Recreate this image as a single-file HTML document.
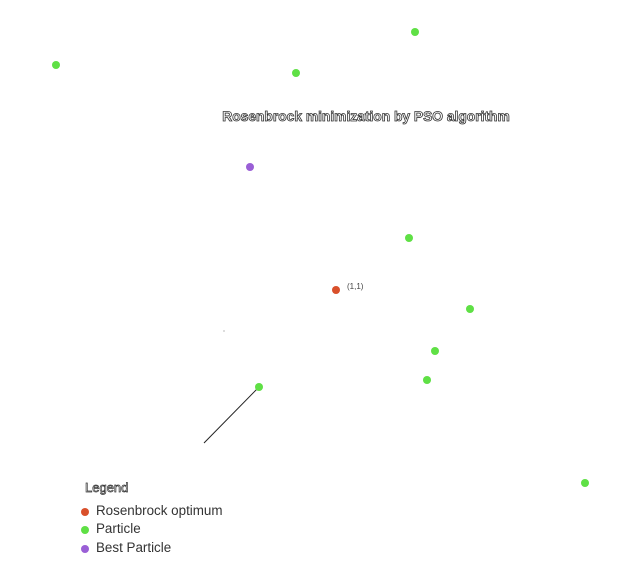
<!DOCTYPE html>
<html><head><meta charset="utf-8"><style>
html,body{margin:0;padding:0;background:#fff;width:640px;height:576px;overflow:hidden}
svg{display:block;font-family:"Liberation Sans",sans-serif}
</style></head><body>
<svg id="chart" width="640" height="576">
<text x="366" y="121" text-anchor="middle" font-size="13.8" font-weight="bold" fill="#fff" stroke="#333" stroke-width="0.8">Rosenbrock minimization by PSO algorithm</text>
<g id="marks"></g>
<g>
<text x="85" y="492" font-size="13" fill="#fff" stroke="#333" stroke-width="0.7">Legend</text>
<circle cx="85" cy="512" r="4" fill="#d9502b"/>
<text x="96" y="515" font-size="13.4" fill="#333">Rosenbrock optimum</text>
<circle cx="85" cy="530" r="4" fill="#5fe045"/>
<text x="96" y="533" font-size="13.4" fill="#333">Particle</text>
<circle cx="85" cy="549" r="4" fill="#9a5fd6"/>
<text x="96" y="552" font-size="13.4" fill="#333">Best Particle</text>
</g>
</svg>
<script>
const particleX = [-1.8, 0.6, 1.79, 1.73, 2.34, 1.99, 1.91, 0.23, 3.49];
const particleY = [3.25, 3.17, 3.58, 1.52, 0.81, 0.39, 0.10, 0.03, -0.93];
const bestX = [0.14];
const bestY = [2.23];
const optimumX = [1];
const optimumY = [1];
const velocityFrom = [0.23, 0.03];
const velocityTo = [-0.32, -0.53];

function sx(v){return 336 + (v - 1) * 100;}
function sy(v){return 290 - (v - 1) * 100;}
const NS = "http://www.w3.org/2000/svg";
const g = document.getElementById("marks");

const ln = document.createElementNS(NS, "line");
ln.setAttribute("x1", sx(velocityFrom[0])); ln.setAttribute("y1", sy(velocityFrom[1]));
ln.setAttribute("x2", sx(velocityTo[0])); ln.setAttribute("y2", sy(velocityTo[1]));
ln.setAttribute("stroke", "#222"); ln.setAttribute("stroke-width", "1");


g.appendChild(ln);

const dot = document.createElementNS(NS, "circle");
dot.setAttribute("cx", 224); dot.setAttribute("cy", 331); dot.setAttribute("r", 0.6); dot.setAttribute("fill", "#888");


g.appendChild(dot);

function pt(x, y, fill, name){
  const c = document.createElementNS(NS, "circle");
  c.setAttribute("cx", sx(x)); c.setAttribute("cy", sy(y)); c.setAttribute("r", 4); c.setAttribute("fill", fill);
  
  
  g.appendChild(c);
}
for (let i = 0; i < particleX.length; i++) pt(particleX[i], particleY[i], "#5fe045", "particle-" + (i + 1));
for (let i = 0; i < bestX.length; i++) pt(bestX[i], bestY[i], "#9a5fd6", "best-particle");
for (let i = 0; i < optimumX.length; i++) {
  pt(optimumX[i], optimumY[i], "#d9502b", "rosenbrock-optimum");
  const t = document.createElementNS(NS, "text");
  t.setAttribute("x", sx(optimumX[i]) + 11); t.setAttribute("y", sy(optimumY[i]) - 1);
  t.setAttribute("font-size", "8"); t.setAttribute("fill", "#444");
  t.textContent = "(" + optimumX[i] + "," + optimumY[i] + ")";
  
  
  g.appendChild(t);
}
</script>
</body></html>
